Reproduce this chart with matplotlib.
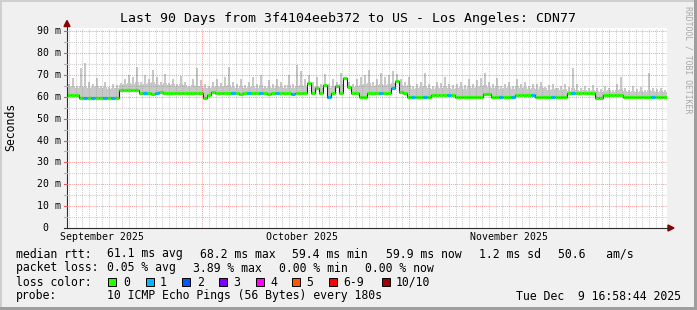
import matplotlib
matplotlib.use('Agg')
import matplotlib.pyplot as plt
from matplotlib.patches import Rectangle, Polygon
from matplotlib.lines import Line2D
import numpy as np
from datetime import datetime, timedelta

# ---------------- data (150 bins over 90 days, ms) ----------------
median_ms = [
    61.0, 61.0, 61.0,
    59.7, 59.7, 59.7, 59.7, 59.6, 59.4, 59.6, 59.7, 59.7, 59.7,
    63.0, 63.0, 63.0, 63.0, 63.0,
    61.6, 61.6, 61.6, 61.4, 61.6, 62.0, 61.6, 61.6, 61.6, 61.6, 61.6, 61.6, 61.6, 61.6, 61.6, 61.6,
    59.6, 60.8, 62.2,
    61.6, 61.6, 61.6, 61.6, 61.6, 61.6, 61.2, 61.6, 61.6, 61.6, 61.6, 61.6, 61.6, 61.3, 61.6, 61.6,
    61.6, 61.6, 61.6, 61.3, 61.6, 61.6, 61.6,
    66.2, 61.6, 64.0, 61.6, 65.5, 59.8, 61.6, 65.0, 61.6, 68.6, 64.5, 61.6, 61.6,
    60.1, 60.1,
    61.6, 61.6, 61.6, 61.6, 61.6, 61.6,
    64.0, 67.4, 62.0, 61.6,
    60.1, 60.1, 60.1, 60.1, 60.1, 60.1,
    61.0, 61.0, 61.0, 61.0, 61.0, 61.0,
    60.1, 60.1, 60.1, 60.1, 60.1, 60.1, 60.1,
    61.4, 61.4,
    60.1, 60.1, 60.1, 60.1, 60.1, 60.1,
    61.0, 61.0, 61.0, 61.0, 61.0,
    60.1, 60.1, 60.1, 60.1, 60.1, 60.1, 60.1, 60.1,
    61.6, 61.6, 61.6, 61.6, 61.6, 61.6, 61.6,
    59.4, 59.4,
    61.0, 61.0, 61.0, 61.0, 61.0,
    59.9, 59.9, 59.9, 59.9, 59.9, 59.9, 59.9, 59.9, 59.9, 59.9, 59.9,
]

# dense part of the smoke (upper bulk of the pings)
smoke_mid_ms = [
    64.5, 65, 64, 65, 64.5, 64, 64.5, 65, 64, 64.5, 63.5, 64, 64,
    65.5, 66, 66.5, 66, 67, 65.5, 66, 66.5, 67, 66, 65.5, 66.5, 65.5, 66, 65, 66, 65.5, 64.5,
    65.5, 65, 65,
    64, 64, 64.5, 65, 64.5, 65, 65.5, 64.5, 64, 65, 64, 64.5, 65, 64, 65.5, 64, 64.5, 64, 65,
    64.5, 64, 65.5, 64, 65, 65.5, 65,
    65, 64.5, 65, 64, 65.5, 64, 65, 64.5, 66, 65.5, 65, 64.5, 65, 65.5, 66, 66.5, 65, 65.5, 66,
    65.5, 66, 66.5, 66, 65.5, 65, 65.5,
    63.5, 64, 64.5, 65, 64, 63.5, 64.5, 64, 65, 64, 63.5, 64, 64.5, 63.5, 65, 64, 64.5, 65, 65.5,
    64.5, 64, 65, 63.5, 64, 64.5, 63.5, 65, 64, 64.5, 63.5, 64, 63.5, 64.5, 64, 63, 63.5, 64, 63,
    63.5,
    62.5, 64, 63, 62.5, 63, 62.5, 63, 62.5, 62, 62.5, 63, 62, 63, 63.5, 62.5, 62, 62.5, 62, 62.5,
    62, 63, 62.5, 62, 62.5, 62,
]

# maximum ping of each bin (thin spikes)
smoke_top_ms = [
    66, 68.5, 65,
    73,
    75.4,
    67, 66, 68.6, 65, 67, 64.5, 66, 65.5,
    66.5, 68, 70, 69, 73.8,
    67, 70, 68, 72.5, 69, 67, 70.5, 66.5,
    68, 66, 69.5, 67, 65, 68, 73, 67.5,
    66, 65, 67, 68, 66.5, 69, 73.5,
    67, 66, 68, 65.5, 67, 69, 66, 70, 65, 67.5,
    66, 68, 67, 65.5, 70, 66, 74.5, 72, 68,
    70, 67, 69, 66, 70.5, 66, 68, 67, 71, 69, 67, 66, 68,
    69, 70, 72.3, 67, 68, 71, 69, 70, 72, 70.5, 68, 67, 69,
    65, 66, 67, 70.8, 66, 65, 67, 66.5, 69, 66, 65.5,
    66, 67, 65.5, 68, 66, 67.5, 68.5, 71,
    67, 66, 68.5, 65, 66, 67, 65, 68, 66, 67, 65, 66,
    66, 67, 64.5, 65.5, 66, 64, 65, 66,
    64.5, 73.1, 66, 64, 65, 64, 65.5, 64,
    63.5, 65, 64, 63, 66, 69.3, 64, 63, 65, 63.5, 64.5, 63, 70.8, 64, 63.5, 64, 63,
]

loss_count = [
    0, 0, 0, 0, 1, 0, 1, 0, 0, 1, 0, 1, 0, 0, 0, 0, 0, 0, 0, 1, 0, 0, 1, 0, 0,
    0, 0, 0, 0, 0, 0, 0, 0, 0, 0, 0, 0, 0, 0, 0, 0, 1, 0, 0, 0, 1, 0, 0, 1, 0,
    0, 0, 1, 0, 0, 0, 1, 0, 0, 0, 0, 0, 0, 0, 0, 1, 0, 0, 0, 0, 0, 0, 0, 0, 0,
    0, 0, 0, 1, 0, 0, 1, 0, 0, 0, 0, 1, 0, 0, 1, 0, 0, 0, 0, 0, 1, 0, 0, 0, 0,
    0, 0, 0, 0, 0, 0, 0, 0, 1, 0, 0, 1, 0, 0, 0, 0, 1, 0, 0, 0, 0, 1, 0, 0, 0,
    0, 1, 0, 0, 0, 0, 0, 0, 0, 0, 0, 0, 0, 0, 0, 0, 0, 0, 0, 0, 0, 1, 0, 0, 0,
]

loss_labels = ['0', '1', '2', '3', '4', '5', '6-9', '10/10']
loss_colors = ['#26ff00', '#00b8ff', '#0059ff', '#7e00ff', '#ff00ff', '#ff5500', '#ff0000', '#a10000']

y_ticks_ms = [0, 10, 20, 30, 40, 50, 60, 70, 80, 90]
y_tick_labels = ['0  ', '10 m', '20 m', '30 m', '40 m', '50 m', '60 m', '70 m', '80 m', '90 m']
month_labels = ['September 2025', 'October 2025', 'November 2025']
month_label_dates = [datetime(2025, 9, 16), datetime(2025, 10, 16), datetime(2025, 11, 16)]
month_grid_dates = [datetime(2025, 10, 1), datetime(2025, 11, 1), datetime(2025, 12, 1)]

end_time = datetime(2025, 12, 9, 16, 58, 44)
start_time = end_time - timedelta(days=90)

title = 'Last 90 Days from 3f4104eeb372 to US - Los Angeles: CDN77'

# ---------------- figure ----------------
W, H = 697, 310
MONO = 'DejaVu Sans Mono'
fig = plt.figure(figsize=(W / 100, H / 100), dpi=100)
fig.patch.set_facecolor('#f0f0f0')


def fx(px):
    return px / W


def fy(py):
    return 1 - py / H


def days(d):
    return (d - start_time).total_seconds() / 86400.0


YMAX = 91.5
ax = fig.add_axes([fx(67), fy(228), 600 / W, 200 / H])
ax.set_facecolor('white')
ax.set_xlim(0, 90)
ax.set_ylim(0, YMAX)
for s in ax.spines.values():
    s.set_visible(False)
ax.set_xticks([])
ax.set_yticks([])

n = len(median_ms)
edges = np.linspace(0, 90, n + 1)
bw = edges[1] - edges[0]
med = np.array(median_ms)
mid = np.maximum(np.array(smoke_mid_ms), med)
top = np.maximum(np.array(smoke_top_ms), mid)

SMOKE = '#c8c8c8'
# dense smoke body
ax.bar(edges[:-1], mid - (med - 0.6), bottom=med - 0.6, width=bw, align='edge',
       color=SMOKE, linewidth=0, zorder=1)
# thin spikes up to the max ping
ax.bar(edges[:-1] + bw * 0.25, top - mid, bottom=mid, width=bw * 0.5, align='edge',
       color=SMOKE, linewidth=0, zorder=1)
# thin dark median line
ax.step(edges, np.r_[med, med[-1]], where='post', color='#202020', lw=0.8, zorder=2)
# loss-coloured median
ax.hlines(med, edges[:-1], edges[1:], colors=[loss_colors[c] for c in loss_count],
          lw=2.3, zorder=3, capstyle='butt')

# grid (drawn on top, like rrdtool)
dot = (0, (1, 1))
minor_col = (0.56, 0.56, 0.56, 0.45)
major_col = (1.0, 0.0, 0.0, 0.38)
for v in np.arange(5, 90, 10):
    ax.axhline(v, color=minor_col, lw=0.75, ls=dot, zorder=4)
for v in y_ticks_ms[1:]:
    ax.axhline(v, color=major_col, lw=0.75, ls=dot, zorder=4)
d = datetime(2025, 9, 11)
while d < end_time:
    if d not in month_grid_dates:
        ax.axvline(days(d), color=minor_col, lw=0.75, ls=dot, zorder=4)
    d += timedelta(days=1)
for md in month_grid_dates:
    ax.axvline(days(md), color=major_col, lw=0.75, ls=dot, zorder=4)

# axis lines and arrows
AX_COL = '#2c2c2c'
fig.add_artist(Line2D([fx(67), fx(67)], [fy(228), fy(25)], color=AX_COL, lw=0.8))
fig.add_artist(Line2D([fx(64), fx(669)], [fy(228), fy(228)], color=AX_COL, lw=0.8))
fig.add_artist(Polygon([[fx(64), fy(26.5)], [fx(70), fy(26.5)], [fx(67), fy(20.5)]],
                       closed=True, color='#8b0000', transform=fig.transFigure))
fig.add_artist(Polygon([[fx(668), fy(225)], [fx(668), fy(231)], [fx(674), fy(228)]],
                       closed=True, color='#8b0000', transform=fig.transFigure))

# small tick marks left of y axis
px_per_ms = 200 / YMAX
for v in np.arange(5, 91, 5):
    yy = 228 - v * px_per_ms
    col = (0.9, 0.35, 0.35) if v % 10 == 0 else (0.7, 0.7, 0.7)
    fig.add_artist(Line2D([fx(64), fx(66.5)], [fy(yy), fy(yy)], color=col, lw=0.8))

# y tick labels
for v, lab in zip(y_ticks_ms, y_tick_labels):
    yy = 228 - v * px_per_ms
    fig.text(fx(61), fy(yy), lab, ha='right', va='center', family=MONO, fontsize=7.1)

# x labels
for md, lab in zip(month_label_dates, month_labels):
    xx = 67 + days(md) * 600 / 90
    fig.text(fx(xx), fy(237.5), lab, ha='center', va='center', family=MONO, fontsize=7.1)

# title, y label, watermark
fig.text(0.5, fy(18.5), title, ha='center', va='center', family=MONO, fontsize=9.5)
fig.text(fx(10.5), fy(127), 'Seconds', ha='center', va='center', rotation=90,
         family=MONO, fontsize=8.3)
fig.text(fx(688), fy(60), 'RRDTOOL / TOBI OETIKER', ha='center', va='center',
         rotation=-90, family=MONO, fontsize=5.9, color='#a8a8a8')

# legend
FS = 8.3
rows_y = [254, 268, 282, 296]


def t(x, y, s, **kw):
    fig.text(fx(x), fy(y), s, ha='left', va='center', family=MONO, fontsize=FS, **kw)


t(16, rows_y[0], 'median rtt:')
t(107, rows_y[0], '61.1 ms avg')
t(200, rows_y[0], '68.2 ms max')
t(292.5, rows_y[0], '59.4 ms min')
t(386, rows_y[0], '59.9 ms now')
t(479, rows_y[0], '1.2 ms sd')
t(558, rows_y[0], '50.6   am/s')

t(16, rows_y[1], 'packet loss:')
t(107, rows_y[1], '0.05 % avg')
t(193, rows_y[1], '3.89 % max')
t(279, rows_y[1], '0.00 % min')
t(365, rows_y[1], '0.00 % now')

t(16, rows_y[2], 'loss color:')
box_x = [108, 145.5, 182.3, 219, 255.7, 292.3, 329, 381.7]
lab_x = [123, 160, 196.7, 233.3, 270, 306.7, 343.3, 396]
for bx, lx, lab, col in zip(box_x, lab_x, loss_labels, loss_colors):
    fig.add_artist(Rectangle((fx(bx), fy(285.5)), 8 / W, 8 / H, transform=fig.transFigure,
                             facecolor=col, edgecolor='black', lw=0.7))
    t(lx, rows_y[2], lab)

t(16, rows_y[3], 'probe:')
t(107, rows_y[3], '10 ICMP Echo Pings (56 Bytes) every 180s')
fig.text(fx(681), fy(rows_y[3]), 'Tue Dec  9 16:58:44 2025', ha='right', va='center',
         family=MONO, fontsize=FS)

# 3D frame
fig.add_artist(Rectangle((0, 0), 2 / W, 1, transform=fig.transFigure, color='#cfcfcf', lw=0))
fig.add_artist(Rectangle((0, 1 - 2 / H), 1, 2 / H, transform=fig.transFigure, color='#cfcfcf', lw=0))
fig.add_artist(Rectangle((1 - 3 / W, 0), 3 / W, 1, transform=fig.transFigure, color='#9e9e9e', lw=0))
fig.add_artist(Rectangle((0, 0), 1, 3 / H, transform=fig.transFigure, color='#9e9e9e', lw=0))

fig.savefig('out.png', dpi=100, facecolor=fig.get_facecolor())
